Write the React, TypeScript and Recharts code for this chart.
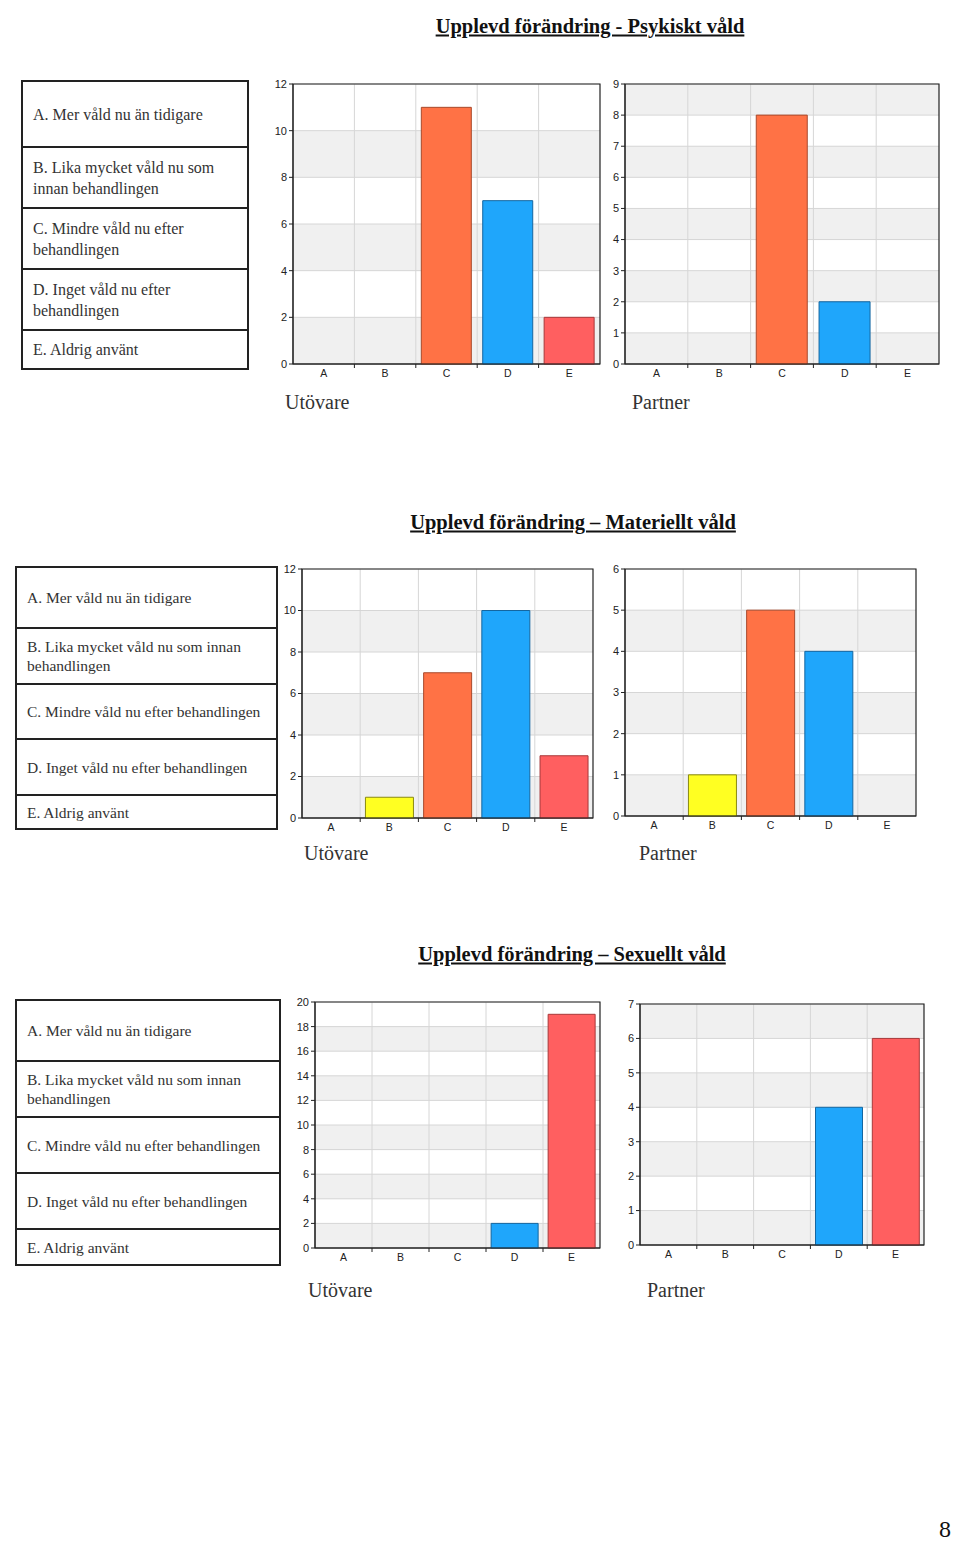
import React from "react";
import { BarChart, Bar, XAxis, YAxis, CartesianGrid, Cell, ReferenceArea } from "recharts";

const categories = ["A", "B", "C", "D", "E"];

const psykisktUtovare = [0, 0, 11, 7, 2];
const psykisktPartner = [0, 0, 8, 2, 0];
const materielltUtovare = [0, 1, 7, 10, 3];
const materielltPartner = [0, 1, 5, 4, 0];
const sexuelltUtovare = [0, 0, 0, 2, 19];
const sexuelltPartner = [0, 0, 0, 4, 6];

const ticks12 = [0, 2, 4, 6, 8, 10, 12];
const ticks9 = [0, 1, 2, 3, 4, 5, 6, 7, 8, 9];
const ticks6 = [0, 1, 2, 3, 4, 5, 6];
const ticks20 = [0, 2, 4, 6, 8, 10, 12, 14, 16, 18, 20];
const ticks7 = [0, 1, 2, 3, 4, 5, 6, 7];

const barColors = ["#7fcf4f", "#ffff22", "#ff7245", "#1fa6fb", "#ff5f60"];
const barStrokes = ["#4f8f2f", "#8a8a10", "#a84a2c", "#1466a0", "#a8393a"];

const titles = [
  "Upplevd förändring - Psykiskt våld",
  "Upplevd förändring – Materiellt våld",
  "Upplevd förändring – Sexuellt våld",
];

const legendNarrow = [
  ["A. Mer våld nu än tidigare"],
  ["B. Lika mycket våld nu som", "innan behandlingen"],
  ["C. Mindre våld nu efter", "behandlingen"],
  ["D. Inget våld nu efter", "behandlingen"],
  ["E. Aldrig använt"],
];
const legendWide = [
  ["A. Mer våld nu än tidigare"],
  ["B. Lika mycket våld nu som innan", "behandlingen"],
  ["C. Mindre våld nu efter behandlingen"],
  ["D. Inget våld nu efter behandlingen"],
  ["E. Aldrig använt"],
];

const serif = "'Liberation Serif', 'DejaVu Serif', serif";
const sans = "'Liberation Sans', Arial, sans-serif";

const YW = 30;
const XH = 18;
const M = { top: 6, right: 2, bottom: 0, left: 0 };

function Panel({
  left,
  top,
  width,
  height,
  values,
  ticks,
}: {
  left: number;
  top: number;
  width: number;
  height: number;
  values: number[];
  ticks: number[];
}) {
  const data = categories.map((c, i) => ({ cat: c, value: values[i] }));
  const max = ticks[ticks.length - 1];
  const bands = ticks.length - 1;
  const fill = bands % 2 === 0 ? ["#ffffff", "#f0f0f0"] : ["#f0f0f0", "#ffffff"];
  const band = width / categories.length;

  const XTick = (props: any) => {
    const { x, y, payload, index } = props;
    const axisY = y - 6;
    return (
      <g>
        {index > 0 && (
          <line x1={x - band / 2} x2={x - band / 2} y1={axisY} y2={axisY + 4} stroke="#222" />
        )}
        <text x={x} y={y} dy="0.71em" textAnchor="middle" fontSize={10.5} fontFamily={sans} fill="#222">
          {payload.value}
        </text>
      </g>
    );
  };

  return (
    <div style={{ position: "absolute", left: left - YW, top: top - M.top }}>
      <BarChart
        width={width + YW + M.right}
        height={height + M.top + XH}
        data={data}
        margin={M}
        barCategoryGap="9%"
      >
        <CartesianGrid
          stroke="#d6d6d6"
          horizontalFill={fill}
          fillOpacity={1}
          verticalCoordinatesGenerator={({ offset }: any) =>
            [1, 2, 3, 4].map((i) => offset.left + (i * offset.width) / categories.length)
          }
        />
        <XAxis
          dataKey="cat"
          height={XH}
          tickSize={4}
          tickMargin={2}
          tickLine={false}
          axisLine={{ stroke: "#222" }}
          tick={<XTick />}
          interval={0}
        />
        <YAxis
          width={YW}
          domain={[0, max]}
          ticks={ticks}
          interval={0}
          tickSize={4}
          tickMargin={2}
          tick={{ fontSize: 11, fontFamily: sans, fill: "#222" }}
          tickLine={{ stroke: "#222" }}
          axisLine={{ stroke: "#222" }}
        />
        <Bar dataKey="value" isAnimationActive={false} strokeWidth={1}>
          {data.map((d, i) => (
            <Cell key={d.cat} fill={barColors[i]} stroke={barStrokes[i]} />
          ))}
        </Bar>
        <ReferenceArea y1={0} y2={max} fill="none" fillOpacity={0} stroke="#222" strokeWidth={1.2} ifOverflow="visible" />
      </BarChart>
    </div>
  );
}

function Legend({
  left,
  top,
  width,
  rows,
  heights,
  fontSize,
  lineHeight,
}: {
  left: number;
  top: number;
  width: number;
  rows: string[][];
  heights: number[];
  fontSize: number;
  lineHeight: number;
}) {
  return (
    <div
      style={{
        position: "absolute",
        left,
        top,
        width,
        border: "2px solid #222",
        boxSizing: "border-box",
        fontFamily: serif,
        fontSize,
        color: "#333",
      }}
    >
      {rows.map((lines, i) => (
        <div
          key={i}
          style={{
            height: heights[i] - (i === 0 ? 2 : 0),
            borderTop: i === 0 ? "none" : "2px solid #222",
            boxSizing: "border-box",
            display: "flex",
            flexDirection: "column",
            justifyContent: "center",
            paddingLeft: 10,
            lineHeight: `${lineHeight}px`,
            whiteSpace: "nowrap",
          }}
        >
          {lines.map((l, j) => (
            <div key={j}>{l}</div>
          ))}
        </div>
      ))}
    </div>
  );
}

function Title({ x, y, text }: { x: number; y: number; text: string }) {
  return (
    <div
      style={{
        position: "absolute",
        left: x,
        top: y,
        transform: "translate(-50%, -50%)",
        fontFamily: serif,
        fontWeight: "bold",
        fontSize: 20.5,
        textDecoration: "underline",
        whiteSpace: "nowrap",
        color: "#111",
      }}
    >
      {text}
    </div>
  );
}

function Label({ x, y, text }: { x: number; y: number; text: string }) {
  return (
    <div
      style={{
        position: "absolute",
        left: x,
        top: y,
        transform: "translateY(-50%)",
        fontFamily: serif,
        fontSize: 20,
        color: "#333",
        whiteSpace: "nowrap",
      }}
    >
      {text}
    </div>
  );
}

export default function App() {
  return (
    <div
      style={{
        position: "absolute",
        left: 0,
        top: 0,
        width: 960,
        height: 1541,
        background: "#fff",
        overflow: "hidden",
      }}
    >
      <Title x={590} y={26} text={titles[0]} />
      <Legend left={21} top={80} width={228} rows={legendNarrow} heights={[66, 61, 61, 61, 39]} fontSize={16} lineHeight={21} />
      <Panel left={293} top={84} width={307} height={280} values={psykisktUtovare} ticks={ticks12} />
      <Panel left={625} top={84} width={314} height={280} values={psykisktPartner} ticks={ticks9} />
      <Label x={285} y={402} text="Utövare" />
      <Label x={632} y={402} text="Partner" />

      <Title x={573} y={522} text={titles[1]} />
      <Legend left={15} top={566} width={263} rows={legendWide} heights={[61, 56, 55, 56, 34]} fontSize={15.5} lineHeight={19} />
      <Panel left={302} top={569} width={291} height={249} values={materielltUtovare} ticks={ticks12} />
      <Panel left={625} top={569} width={291} height={247} values={materielltPartner} ticks={ticks6} />
      <Label x={304} y={853} text="Utövare" />
      <Label x={639} y={853} text="Partner" />

      <Title x={572} y={954} text={titles[2]} />
      <Legend left={15} top={999} width={266} rows={legendWide} heights={[61, 56, 56, 56, 36]} fontSize={15.5} lineHeight={19} />
      <Panel left={315} top={1002} width={285} height={246} values={sexuelltUtovare} ticks={ticks20} />
      <Panel left={640} top={1004} width={284} height={241} values={sexuelltPartner} ticks={ticks7} />
      <Label x={308} y={1290} text="Utövare" />
      <Label x={647} y={1290} text="Partner" />

      <div
        style={{
          position: "absolute",
          left: 939,
          top: 1516,
          fontFamily: serif,
          fontSize: 24,
          color: "#111",
        }}
      >
        8
      </div>
    </div>
  );
}
